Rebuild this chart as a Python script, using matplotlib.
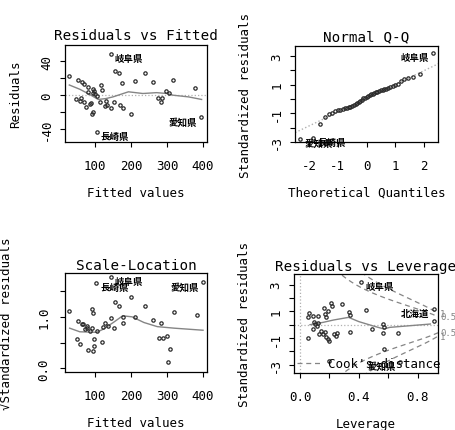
import numpy as np
import matplotlib
matplotlib.use("Agg")
import matplotlib.pyplot as plt
from statistics import NormalDist

plt.rcParams['font.family'] = ['DejaVu Sans Mono', 'Noto Sans CJK JP', 'DejaVu Sans']

# --- Residuals vs Fitted ---
fitted = [29, 144, 156, 168, 176, 211, 240, 260, 316, 379, 298, 305, 274, 286, 282, 395, 105,
          199, 54, 64, 69, 80, 95, 98, 96, 118, 120, 81, 107, 47, 58, 71, 86, 75, 90, 95, 93,
          130, 128, 133, 144, 154, 170, 177, 100, 62, 115]
resid = [23, 49, 29, 26, 14, 17, 26, 16, 18, 9, 5, 3, -3, -3, -8, -26, -43,
         -22, 18, 15, 13, 10, 7, 5, 3, 12, 6, 4, -1, -5, -7, -8, -10, -14, -9, -20, -22,
         -7, -13, -12, -15, -8, -11, -15, 2, -3, -8]
lo1_x = [29, 58, 85, 109, 130, 150, 193, 233, 271, 300, 317, 360, 396]
lo1_y = [12, 7, 1, -5, -4, -2, 4, 2, 3, 2, 0, -2, -5]
lab1 = [(1, '岐阜県'), (15, '愛知県'), (16, '長崎県')]

# --- Normal Q-Q: sorted standardized residuals ---
qq_resid = [-2.79, -2.72, -1.73, -1.27, -1.05, -0.95, -0.85, -0.78, -0.74, -0.70,
            -0.66, -0.62, -0.58, -0.53, -0.47, -0.42, -0.36, -0.28, -0.20, -0.12,
            -0.04, 0.04, 0.10, 0.17, 0.22, 0.28, 0.33, 0.38, 0.43, 0.48,
            0.52, 0.56, 0.60, 0.64, 0.68, 0.72, 0.78, 0.84, 0.90, 0.98,
            1.06, 1.25, 1.42, 1.50, 1.55, 1.76, 3.22]
lab2 = [(0, '愛知県'), (1, '長崎県'), (46, '岐阜県')]

# --- Scale-Location ---
sl_fitted = [28, 144, 103, 400, 200, 156, 168, 93, 95, 240, 320, 382, 177, 212, 144, 177,
             262, 284, 128, 123, 107, 77, 91, 53, 63, 67, 72, 50, 58, 97, 97, 121, 81, 95,
             277, 288, 301, 309, 303, 154, 78, 85, 135]
sl_root = [1.12, 1.78, 1.65, 1.67, 1.39, 1.28, 1.21, 1.16, 1.07, 1.21, 1.09, 1.03, 1.00, 0.99,
           0.97, 0.88, 0.94, 0.89, 0.89, 0.80, 0.72, 0.78, 0.79, 0.92, 0.86, 0.87, 0.76, 0.57,
           0.47, 0.57, 0.43, 0.52, 0.35, 0.34, 0.58, 0.58, 0.62, 0.37, 0.13, 0.78, 0.82, 0.72, 0.83]
lo3_x = [30, 58, 105, 123, 151, 177, 203, 236, 273, 320, 400]
lo3_y = [0.78, 0.71, 0.70, 0.76, 0.89, 1.02, 1.00, 0.89, 0.81, 0.78, 0.74]
lab3 = [(1, '岐阜県'), (2, '長崎県'), (3, '愛知県')]

# --- Residuals vs Leverage ---
leverage = [0.415, 0.91, 0.68, 0.20, 0.063, 0.091, 0.125, 0.057, 0.164, 0.209, 0.216, 0.193,
            0.17, 0.177, 0.288, 0.33, 0.34, 0.448, 0.098, 0.125, 0.114, 0.091, 0.057, 0.132,
            0.159, 0.177, 0.20, 0.25, 0.243, 0.34, 0.489, 0.564, 0.573, 0.564, 0.663, 0.909,
            0.573, 0.14, 0.17, 0.19, 0.23, 0.105]
std_resid = [3.2, 1.17, -2.79, -2.72, 0.85, 0.67, 0.67, 0.55, 1.25, 1.6, 1.42, 1.05,
             0.8, 0.55, 1.55, 0.93, 0.75, 1.1, 0.18, 0.13, -0.07, -0.32, -1.02, -0.7,
             -0.7, -0.9, -1.25, -0.64, -0.82, -0.57, -0.32, 0.05, -0.15, -0.65, -0.65, 0.25,
             -1.82, -0.45, -0.55, -1.1, -0.7, 0.05]
lo4_x = [0.068, 0.159, 0.227, 0.33, 0.40, 0.49, 0.57, 0.61, 0.886]
lo4_y = [0.0, 0.18, 0.35, 0.55, 0.23, -0.07, -0.32, -0.2, 0.05]
lab4 = [(0, '岐阜県'), (1, '北海道'), (2, '愛知県')]
n_par = 11
cook_levels = [0.5, 1]

PT_COL = '#2a2a2a'
LINE_COL = '#858585'
DOT_COL = '#b0b0b0'
JP = dict(family=['Noto Sans CJK JP'], fontsize=6.8, fontweight='bold')

W, H = 455, 431
fig = plt.figure(figsize=(W / 100, H / 100), dpi=100)


def box(l, r, t, b):
    return fig.add_axes([l / W, (H - b) / H, (r - l) / W, (b - t) / H])


def style(ax, xt, xtl, yt, ytl, xlim, ylim, title, xlabel, ylabel, tpad=4, ypad=13):
    ax.set_xlim(xlim)
    ax.set_ylim(ylim)
    ax.set_xticks(xt)
    ax.set_xticklabels(xtl)
    ax.set_yticks(yt)
    ax.set_yticklabels(ytl)
    ax.tick_params(direction='out', length=3.6, width=0.8, labelsize=9)
    ax.tick_params(axis='x', pad=9)
    ax.tick_params(axis='y', pad=5)
    for lb in ax.get_yticklabels():
        lb.set_rotation(90)
        lb.set_va('center')
    for s in ax.spines.values():
        s.set_linewidth(0.9)
    ax.set_title(title, fontsize=10.3, pad=tpad)
    ax.set_xlabel(xlabel, fontsize=9, labelpad=9.5)
    ax.set_ylabel(ylabel, fontsize=9, labelpad=ypad)


def label_pts(ax, xs, ys, labs, dy=-3):
    mid = np.mean(ax.get_xlim())
    for i, txt in labs:
        right = xs[i] < mid
        ax.annotate(txt, (xs[i], ys[i]), xytext=(3 if right else -3, dy), textcoords='offset points',
                    ha='left' if right else 'right', va='center', annotation_clip=False, **JP)


def pts(ax, x, y):
    ax.plot(x, y, 'o', ms=2.4, mfc='none', mec=PT_COL, mew=0.9)


# Residuals vs Fitted
ax1 = box(65, 207, 46, 143)
style(ax1, [100, 200, 300, 400], ['100', '200', '300', '400'], [-40, -20, 0, 20, 40],
      ['-40', '', '0', '', '40'], (17, 411), (-55, 59), 'Residuals vs Fitted',
      'Fitted values', 'Residuals')
ax1.axhline(0, color=DOT_COL, ls=':', lw=0.9)
ax1.plot(lo1_x, lo1_y, color=LINE_COL, lw=1)
pts(ax1, fitted, resid)
label_pts(ax1, fitted, resid, lab1)

# Normal Q-Q
ax2 = box(295, 438, 47, 143)
n = len(qq_resid)
theo = [NormalDist().inv_cdf((i + 0.5) / n) for i in range(n)]
style(ax2, [-2, -1, 0, 1, 2], ['-2', '-1', '0', '1', '2'], list(range(-3, 4)),
      ['-3', '', '-1', '', '1', '', '3'], (-2.49, 2.49), (-3.0, 3.7), 'Normal Q-Q',
      'Theoretical Quantiles', 'Standardized residuals')
q25, q75 = np.quantile(qq_resid, [0.25, 0.75])
z25, z75 = NormalDist().inv_cdf(0.25), NormalDist().inv_cdf(0.75)
slope = (q75 - q25) / (z75 - z25)
icpt = q25 - slope * z25
xx = np.array([-2.6, 2.6])
ax2.plot(xx, icpt + slope * xx, color=DOT_COL, ls=':', lw=1)
pts(ax2, theo, qq_resid)
label_pts(ax2, theo, qq_resid, lab2)

# Scale-Location
ax3 = box(65, 207, 274, 373)
style(ax3, [100, 200, 300, 400], ['100', '200', '300', '400'], [0, 0.5, 1.0, 1.5],
      ['0.0', '', '1.0', ''], (17, 411), (-0.07, 1.85), 'Scale-Location',
      'Fitted values', '√Standardized residuals', tpad=3, ypad=17)
ax3.tick_params(axis='y', pad=7)
ax3.plot(lo3_x, lo3_y, color=LINE_COL, lw=1)
pts(ax3, sl_fitted, sl_root)
label_pts(ax3, sl_fitted, sl_root, lab3)

# Residuals vs Leverage
ax4 = box(294, 438, 275, 374)
xl4 = (-0.041, 0.938)
style(ax4, [0, 0.2, 0.4, 0.6, 0.8], ['0.0', '', '0.4', '', '0.8'], list(range(-3, 4)),
      ['-3', '', '-1', '', '1', '', '3'], xl4, (-3.62, 3.8), 'Residuals vs Leverage',
      'Leverage', 'Standardized residuals', tpad=3)
ax4.axhline(0, color=DOT_COL, ls=':', lw=0.9)
ax4.axvline(0, color=DOT_COL, ls=':', lw=0.9)
hh = np.linspace(0.01, xl4[1], 200)
for c in cook_levels:
    cl = np.sqrt(c * n_par * (1 - hh) / hh)
    ln, = ax4.plot(hh, cl, color=LINE_COL, ls=(0, (4, 3)), lw=0.9)
    ax4.plot(hh, -cl, color=LINE_COL, ls=(0, (4, 3)), lw=0.9)
    aty = np.sqrt(c * n_par * (1 - xl4[1]) / xl4[1])
    for yv in (aty, -aty):
        ax4.annotate(f'{c:g}', (1, yv), xycoords=('axes fraction', 'data'), xytext=(1.5, 0),
                     textcoords='offset points', ha='left', va='center', fontsize=6.5,
                     color=LINE_COL, annotation_clip=False)
ax4.plot(lo4_x, lo4_y, color=LINE_COL, lw=1)
pts(ax4, leverage, std_resid)
label_pts(ax4, leverage, std_resid, lab4)
ax4.legend([ln], ["Cook's distance"], loc='lower left', frameon=False, fontsize=9,
           handlelength=2.0, handletextpad=0.5, borderaxespad=0.1, borderpad=0.1)

fig.savefig('out.png', dpi=100)
